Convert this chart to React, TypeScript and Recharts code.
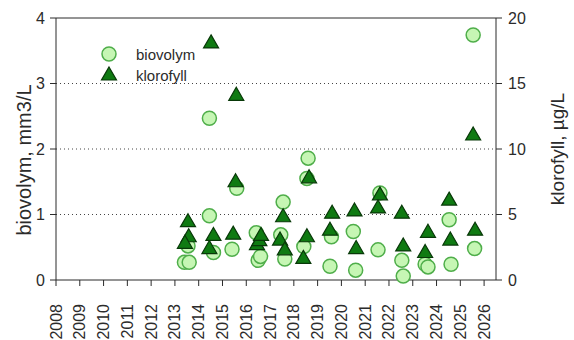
import { ScatterChart, Scatter, XAxis, YAxis, ReferenceLine } from "recharts";

// biovolym (mm3/L), left axis
const bioYears = [
  2013.4, 2013.6, 2013.55, 2014.45, 2014.45, 2014.62, 2015.4, 2015.6, 2016.42, 2016.5,
  2016.6, 2017.55, 2017.45, 2017.62, 2018.6, 2018.55, 2018.42, 2019.58, 2019.52, 2020.5,
  2020.6, 2021.62, 2021.54, 2022.54, 2022.6, 2023.52, 2023.64, 2024.53, 2024.61, 2025.54,
  2025.6,
];
const bioValues = [
  0.27, 0.27, 0.52, 0.98, 2.47, 0.42, 0.47, 1.4, 0.72, 0.3,
  0.36, 1.19, 0.69, 0.32, 1.86, 1.55, 0.51, 0.66, 0.21, 0.74,
  0.15, 1.33, 0.46, 0.3, 0.06, 0.24, 0.2, 0.92, 0.24, 3.74,
  0.48,
];

// klorofyll (µg/L), right axis
const chlYears = [
  2013.55, 2013.58, 2013.42, 2014.52, 2014.45, 2014.62, 2015.45, 2015.58, 2015.55, 2016.45,
  2016.55, 2016.62, 2017.55, 2017.42, 2017.62, 2018.64, 2018.55, 2018.4, 2019.61, 2019.52,
  2020.55, 2020.62, 2021.62, 2021.54, 2022.54, 2022.6, 2023.64, 2023.52, 2024.53, 2024.58,
  2025.54, 2025.62,
];
const chlValues = [
  4.45, 3.3, 2.8, 18.1, 2.4, 3.4, 3.5, 14.1, 7.5, 2.7,
  3.0, 3.4, 4.83, 3.05, 2.3, 7.8, 3.3, 1.65, 5.1, 3.8,
  5.27, 2.4, 6.5, 5.5, 5.1, 2.6, 3.64, 2.1, 6.1, 3.05,
  11.07, 3.8,
];

const yearTicks = [
  2008, 2009, 2010, 2011, 2012, 2013, 2014, 2015, 2016, 2017,
  2018, 2019, 2020, 2021, 2022, 2023, 2024, 2025, 2026,
];
const bioTicks = [0, 1, 2, 3, 4];
const chlTicks = [0, 5, 10, 15, 20];
const gridLevels = [1, 2, 3];

const bioData = bioYears.map((x, i) => ({ x, y: bioValues[i] }));
const chlData = chlYears.map((x, i) => ({ x, y: chlValues[i] }));

const AXIS = "#2b2b2b";
const FONT = "'Liberation Sans', Arial, sans-serif";

const CircleMark = (props: any) => (
  <circle cx={props.cx} cy={props.cy} r={7} fill="#c6f6b4" stroke="#4fae4a" strokeWidth={1.5} />
);

const TriangleMark = (props: any) => {
  const { cx, cy } = props;
  return (
    <polygon
      points={`${cx},${cy - 8} ${cx + 7.5},${cy + 5} ${cx - 7.5},${cy + 5}`}
      fill="#0f7a12"
      stroke="#083808"
      strokeWidth={1.2}
    />
  );
};

const YearTick = ({ x, y, payload }: any) => (
  <text
    transform={`translate(${x},${y + 16}) rotate(-90)`}
    textAnchor="end"
    dominantBaseline="central"
    fontSize={16}
    fill={AXIS}
    fontFamily={FONT}
  >
    {payload.value}
  </text>
);

export default function App() {
  return (
    <div style={{ position: "absolute", left: 0, top: 0, width: 574, height: 340, background: "#fff", fontFamily: FONT }}>
      <ScatterChart width={574} height={340} margin={{ top: 18, right: 0, left: 0, bottom: 0 }}>
        <XAxis
          type="number"
          dataKey="x"
          domain={[2008, 2026.5]}
          ticks={yearTicks}
          interval={0}
          height={60}
          stroke={AXIS}
          tick={<YearTick />}
        />
        <YAxis
          yAxisId="l"
          type="number"
          dataKey="y"
          domain={[0, 4]}
          ticks={bioTicks}
          width={56}
          stroke={AXIS}
          tickMargin={5}
          tick={{ fill: AXIS, fontSize: 16, fontFamily: FONT }}
        />
        <YAxis
          yAxisId="r"
          orientation="right"
          type="number"
          dataKey="y"
          domain={[0, 20]}
          ticks={chlTicks}
          width={78}
          stroke={AXIS}
          tickMargin={6}
          tick={{ fill: AXIS, fontSize: 16, fontFamily: FONT }}
        />
        {gridLevels.map((g) => (
          <ReferenceLine key={g} yAxisId="l" y={g} stroke="#444" strokeDasharray="1 3" />
        ))}
        <ReferenceLine yAxisId="l" y={4} stroke={AXIS} />
        <Scatter yAxisId="l" data={bioData} shape={<CircleMark />} isAnimationActive={false} />
        <Scatter yAxisId="r" data={chlData} shape={<TriangleMark />} isAnimationActive={false} />
      </ScatterChart>
      <svg width={574} height={340} style={{ position: "absolute", left: 0, top: 0, pointerEvents: "none" }}>
        <text
          transform="translate(24,160) rotate(-90)"
          textAnchor="middle"
          dominantBaseline="central"
          fontSize={20}
          fill={AXIS}
          fontFamily={FONT}
        >
          biovolym, mm3/L
        </text>
        <text
          transform="translate(557,149) rotate(-90)"
          textAnchor="middle"
          dominantBaseline="central"
          fontSize={19}
          fill={AXIS}
          fontFamily={FONT}
        >
          klorofyll, µg/L
        </text>
        <circle cx={109} cy={54} r={7} fill="#c6f6b4" stroke="#4fae4a" strokeWidth={1.5} />
        <polygon points="109,67 116.5,80 101.5,80" fill="#0f7a12" stroke="#083808" strokeWidth={1.2} />
        <text x={136} y={54} dominantBaseline="central" fontSize={15} fill={AXIS} fontFamily={FONT}>
          biovolym
        </text>
        <text x={136} y={75} dominantBaseline="central" fontSize={15} fill={AXIS} fontFamily={FONT}>
          klorofyll
        </text>
      </svg>
    </div>
  );
}
